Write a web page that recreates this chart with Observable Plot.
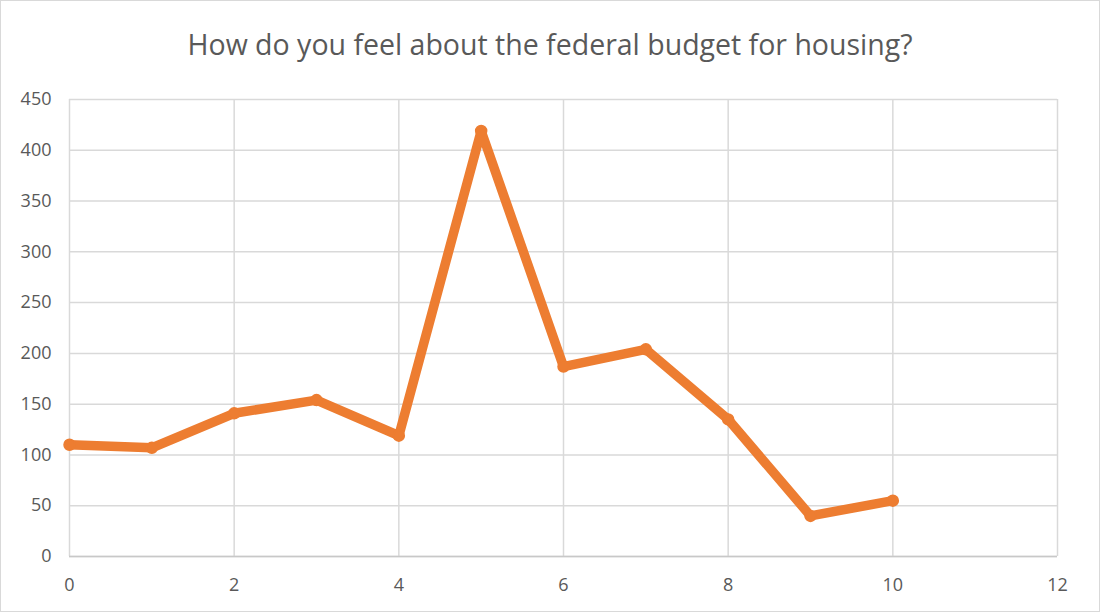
<!DOCTYPE html>
<html>
<head>
<meta charset="utf-8">
<script src="https://cdn.jsdelivr.net/npm/d3@7"></script>
<script src="https://cdn.jsdelivr.net/npm/@observablehq/plot@0.6"></script>
<style>
  html, body { margin: 0; padding: 0; background: #fff; }
  #chart { width: 1100px; height: 612px; box-sizing: border-box; border: 1px solid #d9d9d9; position: relative; overflow: hidden; }
  #title { height: 79px; line-height: 86px; text-align: center; font-family: "Open Sans", sans-serif; font-size: 28.5px; color: #595959; white-space: nowrap; }
  svg { display: block; }
</style>
</head>
<body>
<div id="chart">
  <div id="title">How do you feel about the federal budget for housing?</div>
</div>
<script>
const xValues = [0, 1, 2, 3, 4, 5, 6, 7, 8, 9, 10];
const yValues = [110, 107, 141, 154, 119, 419, 187, 204, 135, 40, 55];
const xTicks = [0, 2, 4, 6, 8, 10, 12];
const yTicks = [0, 50, 100, 150, 200, 250, 300, 350, 400, 450];

const data = xValues.map((x, i) => ({x, y: yValues[i]}));
const orange = "#ED7D31";

const plot = Plot.plot({
  width: 1098,
  height: 532,
  marginLeft: 68,
  marginRight: 42,
  marginTop: 19,
  marginBottom: 56,
  style: { fontFamily: "Open Sans, sans-serif", color: "#595959", background: "#fff" },
  x: { domain: [0, 12], label: null },
  y: { domain: [0, 450], label: null },
  marks: [
    Plot.ruleY(yTicks, { stroke: "#d9d9d9", strokeWidth: 1.5 }),
    Plot.ruleX(xTicks, { stroke: "#d9d9d9", strokeWidth: 1.5 }),
    Plot.ruleY([0], { stroke: "#c8c8c8", strokeWidth: 1.5 }),
    Plot.axisX({ ticks: xTicks, tickSize: 0, tickPadding: 22, fontSize: 18, fill: "#595959", label: null }),
    Plot.axisY({ ticks: yTicks, tickSize: 0, tickPadding: 18, fontSize: 18, fill: "#595959", label: null }),
    Plot.line(data, { x: "x", y: "y", stroke: orange, strokeWidth: 9.5, strokeLinejoin: "round", strokeLinecap: "round" }),
    Plot.dot(data, { x: "x", y: "y", r: 5.5, fill: orange, stroke: orange })
  ]
});
document.getElementById("chart").appendChild(plot);
</script>
</body>
</html>
